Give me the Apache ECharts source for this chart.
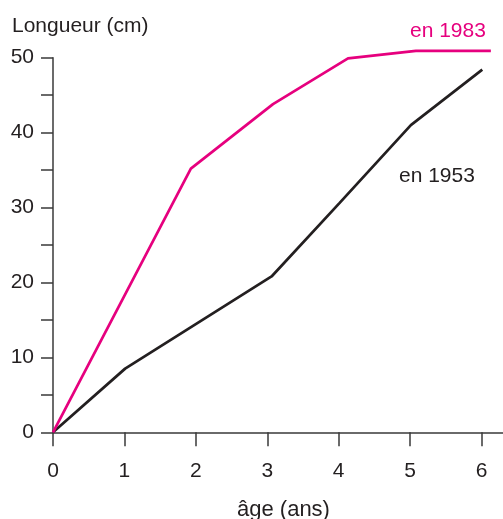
<!DOCTYPE html>
<html>
<head>
<meta charset="utf-8">
<script src="https://cdn.jsdelivr.net/npm/echarts@6/dist/echarts.min.js"></script>
<style>html,body{margin:0;padding:0;background:#fff}#c{width:503px;height:519px}</style>
</head>
<body>
<div id="c"></div>
<script>
// Data (x = âge in years, y = longueur in cm)
const ages1983 = [0, 1.93, 3.08, 4.13, 5.08, 6.13];
const len1983  = [0, 35.2, 43.8, 49.9, 50.9, 50.9];
const ages1953 = [0, 1.01, 3.06, 4.01, 5.01, 6.01];
const len1953  = [0, 8.5, 20.8, 30.6, 41.0, 48.4];
const xTicks = [0, 1, 2, 3, 4, 5, 6];
const yTicks = [0, 5, 10, 15, 20, 25, 30, 35, 40, 45, 50];
const yLabels = [0, 10, 20, 30, 40, 50];

const FONT = 'Liberation Sans, Arial, sans-serif';
const TXT = '#231f20';
const PINK = '#e6007e';
const AX = '#3a3a3a';

const chart = echarts.init(document.getElementById('c'), null, {renderer: 'canvas'});
chart.setOption({
  animation: false,
  backgroundColor: '#fff',
  title: [
    {text: 'Longueur (cm)', left: 7, top: 11, textStyle: {fontFamily: FONT, fontSize: 21, fontWeight: 'normal', color: TXT}},
    {text: 'âge (ans)', left: 232, top: 494, textStyle: {fontFamily: FONT, fontSize: 22, fontWeight: 'normal', color: TXT}}
  ],
  graphic: [
    {type: 'text', left: 410, top: 21, style: {text: 'en 1983', font: '21px ' + FONT, fill: PINK}},
    {type: 'text', left: 399, top: 166, style: {text: 'en 1953', font: '21px ' + FONT, fill: TXT}}
  ],
  grid: {left: 53, right: 0, top: 57.7, bottom: 86.7, containLabel: false},
  xAxis: {
    type: 'value', min: 0, max: 6.3, interval: 1,
    axisLine: {show: true, onZero: false, lineStyle: {color: AX, width: 1.5}},
    axisTick: {show: true, customValues: xTicks, length: 14, inside: false, lineStyle: {color: AX, width: 1.5}},
    axisLabel: {customValues: xTicks, margin: 28, fontFamily: FONT, fontSize: 21, color: TXT},
    splitLine: {show: false}
  },
  yAxis: {
    type: 'value', min: 0, max: 50, interval: 5,
    axisLine: {show: true, onZero: false, lineStyle: {color: AX, width: 1.5}},
    axisTick: {show: true, customValues: yTicks, length: 12, lineStyle: {color: AX, width: 1.5}},
    axisLabel: {customValues: yLabels, margin: 19, fontFamily: FONT, fontSize: 21, color: TXT},
    splitLine: {show: false}
  },
  series: [
    {type: 'line', data: ages1983.map((a, i) => [a, len1983[i]]), showSymbol: false, clip: false,
     lineStyle: {color: PINK, width: 2.7}, z: 3},
    {type: 'line', data: ages1953.map((a, i) => [a, len1953[i]]), showSymbol: false, clip: false,
     lineStyle: {color: TXT, width: 2.7}, z: 2}
  ]
});
</script>
</body>
</html>
